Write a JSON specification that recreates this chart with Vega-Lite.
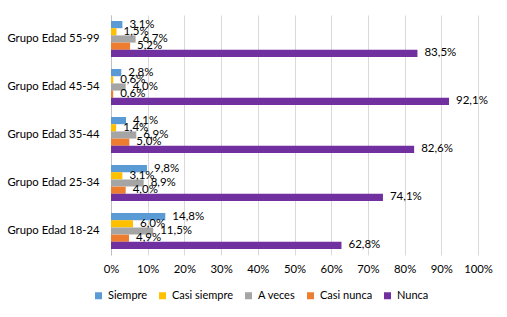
{
  "$schema": "https://vega.github.io/schema/vega-lite/v6.json",
  "width": 367,
  "height": 240,
  "autosize": {"type": "none"},
  "padding": {"left": 111, "top": 15, "right": 29, "bottom": 62},
  "background": "#ffffff",
  "config": {
    "locale": {"number": {"decimal": ",", "thousands": ".", "grouping": [3], "currency": ["", " €"]}},
    "font": "Lato",
    "view": {"stroke": null},
    "axis": {"labelFont": "Lato", "labelFontSize": 11.3, "labelColor": "#000000"},
    "legend": {"labelFont": "Lato", "labelFontSize": 11, "labelColor": "#000000"}
  },
  "data": {
    "values": [
      {"grupo": "Grupo Edad 55-99", "serie": "Siempre", "valor": 0.031},
      {"grupo": "Grupo Edad 55-99", "serie": "Casi siempre", "valor": 0.015},
      {"grupo": "Grupo Edad 55-99", "serie": "A veces", "valor": 0.067},
      {"grupo": "Grupo Edad 55-99", "serie": "Casi nunca", "valor": 0.052},
      {"grupo": "Grupo Edad 55-99", "serie": "Nunca", "valor": 0.835},
      {"grupo": "Grupo Edad 45-54", "serie": "Siempre", "valor": 0.028},
      {"grupo": "Grupo Edad 45-54", "serie": "Casi siempre", "valor": 0.006},
      {"grupo": "Grupo Edad 45-54", "serie": "A veces", "valor": 0.040},
      {"grupo": "Grupo Edad 45-54", "serie": "Casi nunca", "valor": 0.006},
      {"grupo": "Grupo Edad 45-54", "serie": "Nunca", "valor": 0.921},
      {"grupo": "Grupo Edad 35-44", "serie": "Siempre", "valor": 0.041},
      {"grupo": "Grupo Edad 35-44", "serie": "Casi siempre", "valor": 0.014},
      {"grupo": "Grupo Edad 35-44", "serie": "A veces", "valor": 0.069},
      {"grupo": "Grupo Edad 35-44", "serie": "Casi nunca", "valor": 0.050},
      {"grupo": "Grupo Edad 35-44", "serie": "Nunca", "valor": 0.826},
      {"grupo": "Grupo Edad 25-34", "serie": "Siempre", "valor": 0.098},
      {"grupo": "Grupo Edad 25-34", "serie": "Casi siempre", "valor": 0.031},
      {"grupo": "Grupo Edad 25-34", "serie": "A veces", "valor": 0.089},
      {"grupo": "Grupo Edad 25-34", "serie": "Casi nunca", "valor": 0.040},
      {"grupo": "Grupo Edad 25-34", "serie": "Nunca", "valor": 0.741},
      {"grupo": "Grupo Edad 18-24", "serie": "Siempre", "valor": 0.148},
      {"grupo": "Grupo Edad 18-24", "serie": "Casi siempre", "valor": 0.060},
      {"grupo": "Grupo Edad 18-24", "serie": "A veces", "valor": 0.115},
      {"grupo": "Grupo Edad 18-24", "serie": "Casi nunca", "valor": 0.049},
      {"grupo": "Grupo Edad 18-24", "serie": "Nunca", "valor": 0.628}
    ]
  },
  "encoding": {
    "y": {
      "field": "grupo", "type": "nominal",
      "sort": ["Grupo Edad 55-99", "Grupo Edad 45-54", "Grupo Edad 35-44", "Grupo Edad 25-34", "Grupo Edad 18-24"],
      "scale": {"paddingInner": 0.25, "paddingOuter": 0.125},
      "axis": {"title": null, "ticks": false, "domainColor": "#bfbfbf", "labelPadding": 12, "labelLimit": 200}
    },
    "yOffset": {
      "field": "serie", "type": "nominal",
      "sort": ["Siempre", "Casi siempre", "A veces", "Casi nunca", "Nunca"],
      "scale": {"paddingInner": 0, "paddingOuter": 0}
    },
    "x": {
      "field": "valor", "type": "quantitative",
      "scale": {"domain": [0, 1], "nice": false},
      "axis": {"title": null, "format": ".0%", "values": [0, 0.1, 0.2, 0.3, 0.4, 0.5, 0.6, 0.7, 0.8, 0.9, 1], "domain": false, "ticks": false, "gridColor": "#d9d9d9", "labelPadding": 8, "labelOverlap": false, "labelFlush": false}
    }
  },
  "layer": [
    {
      "mark": {"type": "bar"},
      "encoding": {
        "color": {
          "field": "serie", "type": "nominal",
          "sort": ["Siempre", "Casi siempre", "A veces", "Casi nunca", "Nunca"],
          "scale": {"domain": ["Siempre", "Casi siempre", "A veces", "Casi nunca", "Nunca"], "range": ["#5B9BD5", "#FFC000", "#A5A5A5", "#ED7D31", "#7030A0"]},
          "legend": {"title": null, "orient": "none", "direction": "horizontal", "legendX": -18, "legendY": 275, "symbolType": "square", "symbolSize": 49, "symbolStrokeWidth": 0, "labelOffset": 4, "columnPadding": 9, "padding": 0}
        }
      }
    },
    {
      "mark": {"type": "text", "align": "left", "baseline": "middle", "dx": 7, "fontSize": 11.5, "color": "#000000"},
      "encoding": {"text": {"field": "valor", "type": "quantitative", "format": ".1%"}}
    }
  ]
}
